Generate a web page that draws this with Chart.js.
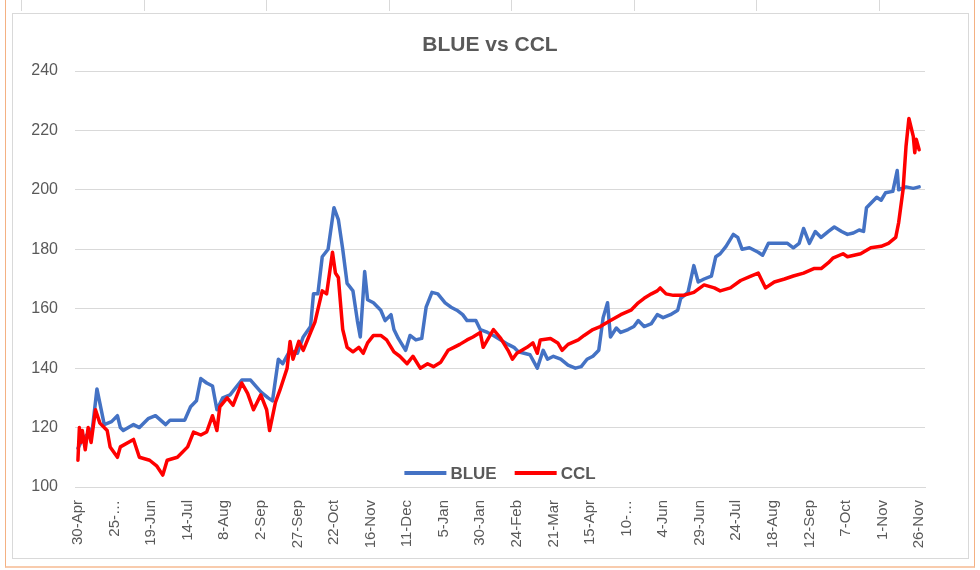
<!DOCTYPE html>
<html>
<head>
<meta charset="utf-8">
<title>BLUE vs CCL</title>
<script src="https://cdn.jsdelivr.net/npm/chart.js@4.4.1/dist/chart.umd.min.js"></script>
<style>
    html, body { margin: 0; padding: 0; background: #fff; }
    #page { position: relative; width: 980px; height: 570px; overflow: hidden; }
    /* marco de la hoja (celdas) */
    .sheet { position: absolute; left: 5px; top: 0; width: 968px; height: 566px;
             border-left: 1px solid #f4b183; border-right: 1px solid #f4b183; border-bottom: 2px solid #f8cbad; }
    .cols { position: absolute; left: 0; top: 0; width: 980px; height: 11px;
            background: repeating-linear-gradient(to right, transparent 0 21px, #d9d9d9 21px 22px, transparent 22px 122.5px); }
    .box { position: absolute; left: 12px; top: 13px; width: 955px; height: 544px; border: 1px solid #d9d9d9; background: #fff; }
    #chart { position: absolute; left: 0; top: 0; }
</style>
</head>
<body>
<div id="page">
    <div class="cols"></div>
    <div class="sheet"></div>
    <div class="box"></div>
    <canvas id="chart" width="980" height="570"></canvas>
</div>
<script>
// Etiquetas del eje X (cada 25 días desde el 30-Apr-2020)
const tickLabels = ['30-Apr', '25-\u2026', '19-Jun', '14-Jul', '8-Aug', '2-Sep', '27-Sep', '22-Oct',
    '16-Nov', '11-Dec', '5-Jan', '30-Jan', '24-Feb', '21-Mar', '15-Apr', '10-\u2026', '4-Jun',
    '29-Jun', '24-Jul', '18-Aug', '12-Sep', '7-Oct', '1-Nov', '26-Nov'];
const tickStep = 25;
const chartTitle = 'BLUE vs CCL';

// BLUE: días desde 30-Apr y valores
const blueDays = [
    0, 3, 7, 10, 13, 18, 23, 27, 29, 31,
    38, 42, 48, 53, 60, 63, 73, 77, 81, 84,
    88, 92, 95, 99, 104, 112, 118, 125, 130, 133,
    137, 140, 145, 150, 154, 159, 161, 164, 167, 171,
    175, 178, 181, 184, 188, 191, 193, 196, 198, 202,
    207, 210, 214, 216, 219, 224, 227, 231, 235, 238,
    242, 246, 251, 255, 259, 263, 266, 272, 275, 280,
    284, 289, 294, 298, 301, 309, 314, 318, 321, 325,
    330, 335, 340, 344, 348, 352, 356, 359, 362, 364,
    368, 371, 376, 380, 383, 387, 392, 396, 400, 405,
    410, 412, 417, 421, 424, 428, 433, 436, 439, 443,
    448, 451, 454, 459, 465, 468, 472, 476, 480, 485,
    489, 493, 496, 500, 504, 508, 513, 517, 522, 526,
    530, 534, 537, 539, 542, 546, 549, 552, 557, 560,
    561, 566, 571, 575
];
const blueValues = [
    113, 116, 118, 120, 133, 121, 122, 124, 120, 119,
    121, 120, 123, 124, 121, 122.5, 122.5, 127, 129, 136.5,
    135, 134, 126, 130, 131, 136, 136, 132, 130, 129,
    143, 141.5, 146, 145, 150.5, 154, 165, 165, 177.5, 180,
    194, 190, 180, 168.5, 166, 156, 150.5, 172.5, 163, 162,
    159.5, 156, 158, 153, 150, 146, 151, 149.5, 150, 160.5,
    165.5, 165, 162, 160.5, 159.5, 158, 156, 156, 153, 152,
    151, 149.5, 148, 147, 145.5, 144.5, 140, 146, 143, 144,
    143, 141, 140, 140.5, 143, 144, 146, 157, 162, 150.5,
    153.5, 152, 153, 154, 156, 154, 155, 158, 157, 158,
    159.5, 163.5, 165.5, 174.5, 169, 170, 171, 177.5, 178.5, 181,
    185, 184, 180, 180.5, 179, 178, 182, 182, 182, 182,
    180.5, 182, 187, 182, 186, 184, 186, 187.5, 186, 185,
    185.5, 186.5, 186, 194, 195.5, 197.5, 196.5, 199, 199.5, 206.5,
    200, 201, 200.5, 201
];

// CCL: días desde 30-Apr y valores
const cclDays = [
    0, 1, 2, 3, 5, 7, 9, 12, 15, 20,
    22, 27, 29, 38, 42, 49, 54, 58, 61, 68,
    75, 79, 84, 88, 92, 95, 97, 102, 106, 112,
    116, 120, 125, 129, 131, 135, 138, 143, 145, 147,
    151, 154, 159, 162, 167, 170, 174, 176, 178, 181,
    184, 188, 192, 195, 198, 202, 207, 211, 216, 220,
    225, 229, 234, 239, 243, 248, 253, 257, 261, 266,
    270, 275, 277, 284, 289, 294, 297, 300, 307, 311,
    314, 316, 323, 328, 331, 335, 342, 346, 352, 357,
    364, 371, 378, 383, 387, 392, 396, 398, 402, 407,
    414, 421, 428, 435, 439, 446, 453, 460, 465, 470,
    476, 483, 489, 496, 503, 508, 513, 516, 523, 526,
    535, 542, 549, 554, 559, 561, 564, 566, 568, 571,
    572, 573, 575
];
const cclValues = [
    109, 120, 115, 119, 112.5, 120, 115, 126, 121.5, 119,
    113.5, 110, 113.5, 116, 110, 109, 107, 104, 109, 110,
    113.5, 118.5, 117.5, 118.5, 124, 119, 127, 130, 127.5, 135,
    131.5, 126, 131, 126, 119, 128.5, 132.5, 140, 149, 143,
    149, 146, 152, 155.5, 166, 165, 179, 172, 170.5, 153,
    147, 145.5, 147, 145, 148.5, 151, 151, 149.5, 145.5, 144,
    141.5, 144, 140, 141.5, 140.5, 142, 146, 147, 148, 149.5,
    150.5, 152, 147, 153, 150, 146, 143, 145, 147, 148.5,
    145, 149.5, 150, 148.5, 146, 148, 149.5, 151, 153, 154,
    156, 158, 159.5, 162, 163.5, 165, 166, 167, 165, 164.5,
    164.5, 165.5, 168, 167, 166, 167, 169.5, 171, 172, 167,
    169, 170, 171, 172, 173.5, 173.5, 175.5, 177, 178.5, 177.5,
    178.5, 180.5, 181, 182, 184, 189, 200, 214.5, 224, 218,
    212.5, 217, 213.5
];

const FONT = "'Liberation Sans', Arial, sans-serif";
const GRAY = '#595959';

// Título centrado sobre todo el recuadro del gráfico
const centeredTitle = {
    id: 'centeredTitle',
    afterDraw(chart) {
        const ctx = chart.ctx;
        ctx.save();
        ctx.font = 'bold 21px ' + FONT;
        ctx.fillStyle = GRAY;
        ctx.textAlign = 'center';
        ctx.textBaseline = 'middle';
        ctx.fillText(chartTitle, chart.width / 2, 45);
        ctx.restore();
    }
};

// Leyenda dentro del área del gráfico (estilo Excel)
const insideLegend = {
    id: 'insideLegend',
    afterDraw(chart) {
        const ctx = chart.ctx;
        const area = chart.chartArea;
        const lineLen = 42, gap = 4, itemGap = 18;
        ctx.save();
        ctx.font = 'bold 17px ' + FONT;
        const items = chart.data.datasets.map(ds => ({
            text: ds.label, color: ds.borderColor, w: ctx.measureText(ds.label).width
        }));
        let total = items.reduce((s, it) => s + lineLen + gap + it.w, 0) + itemGap * (items.length - 1);
        let x = (area.left + area.right) / 2 - total / 2;
        const y = area.bottom - 14;
        items.forEach(it => {
            ctx.strokeStyle = it.color;
            ctx.lineWidth = 4;
            ctx.beginPath();
            ctx.moveTo(x, y);
            ctx.lineTo(x + lineLen, y);
            ctx.stroke();
            ctx.fillStyle = GRAY;
            ctx.textBaseline = 'middle';
            ctx.textAlign = 'left';
            ctx.fillText(it.text, x + lineLen + gap, y + 1);
            x += lineLen + gap + it.w + itemGap;
        });
        ctx.restore();
    }
};

const toPoints = (days, values) => days.map((d, i) => ({ x: d, y: values[i] }));

new Chart(document.getElementById('chart'), {
    type: 'line',
    data: {
        datasets: [{
            label: 'BLUE',
            data: toPoints(blueDays, blueValues),
            borderColor: '#4472C4',
            borderWidth: 3.5,
            order: 1
        }, {
            label: 'CCL',
            data: toPoints(cclDays, cclValues),
            borderColor: '#FF0000',
            borderWidth: 3.5,
            order: 0
        }]
    },
    options: {
        responsive: false,
        animation: false,
        events: [],
        elements: {
            point: { radius: 0 },
            line: { tension: 0, borderJoinStyle: 'round', borderCapStyle: 'round', fill: false }
        },
        layout: { padding: { left: 20, right: 55, top: 71, bottom: 15 } },
        plugins: {
            legend: { display: false },
            tooltip: { enabled: false },
            title: { display: false }
        },
        scales: {
            x: {
                type: 'linear',
                min: -2,
                max: 579,
                grid: { display: false },
                border: { display: true, color: '#d9d9d9' },
                afterBuildTicks(scale) {
                    scale.ticks = tickLabels.map((_, i) => ({ value: i * tickStep }));
                },
                afterFit(scale) { scale.height = 68; },
                ticks: {
                    autoSkip: false,
                    maxRotation: 90,
                    minRotation: 90,
                    padding: 5,
                    color: GRAY,
                    font: { family: FONT, size: 15 },
                    callback: (v, i) => tickLabels[i]
                }
            },
            y: {
                min: 100,
                max: 240,
                grid: { color: '#d9d9d9', lineWidth: 1, drawTicks: false },
                border: { display: false },
                afterFit(scale) { scale.width = 55; },
                ticks: {
                    stepSize: 20,
                    padding: 17,
                    color: GRAY,
                    font: { family: FONT, size: 16 }
                }
            }
        }
    },
    plugins: [centeredTitle, insideLegend]
});
</script>
</body>
</html>
